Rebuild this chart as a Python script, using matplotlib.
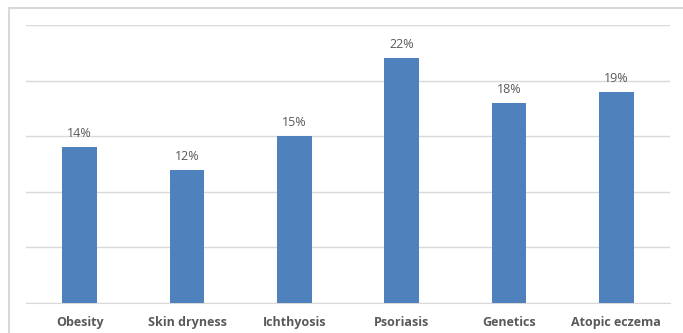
import matplotlib.pyplot as plt
from matplotlib.patches import Rectangle

categories = ['Obesity', 'Skin dryness', 'Ichthyosis', 'Psoriasis', 'Genetics', 'Atopic eczema']
values = [14, 12, 15, 22, 18, 19]

barColor = '#4F81BD'
textColor = '#595959'

fig = plt.figure(figsize=(6.83, 3.33), dpi=100)
ax = fig.add_axes([26 / 683, 30 / 333, 644 / 683, 278 / 333])

x = range(len(categories))
bars = ax.bar(x, values, width=0.32, color=barColor, zorder=3)
ax.set_xlim(-0.5, len(categories) - 0.5)
ax.set_ylim(0, 25)
ax.set_yticks([0, 5, 10, 15, 20, 25])
ax.yaxis.grid(True, color='#d9d9d9', linewidth=1, zorder=0)
ax.tick_params(axis='y', left=False, labelleft=False)
ax.tick_params(axis='x', bottom=False, pad=6)
ax.set_xticks(list(x))
ax.set_xticklabels(categories, fontsize=9, fontweight='bold', color=textColor, family='Open Sans')
for side in ['left', 'right', 'top']:
    ax.spines[side].set_visible(False)
ax.spines['bottom'].set_color('#d9d9d9')

for b, v in zip(bars, values):
    ax.annotate('%d%%' % v, (b.get_x() + b.get_width() / 2, v), xytext=(0, 5),
                textcoords='offset points', ha='center', va='bottom',
                fontsize=9, color=textColor, family='Open Sans')

# outer frame around the chart area
fig.patches.append(Rectangle((9 / 683, -0.05), 1.0, 1 - 8 / 333 + 0.05, transform=fig.transFigure,
                             fill=False, edgecolor='#d9d9d9', linewidth=1.5))

fig.savefig('out.png', dpi=100)
